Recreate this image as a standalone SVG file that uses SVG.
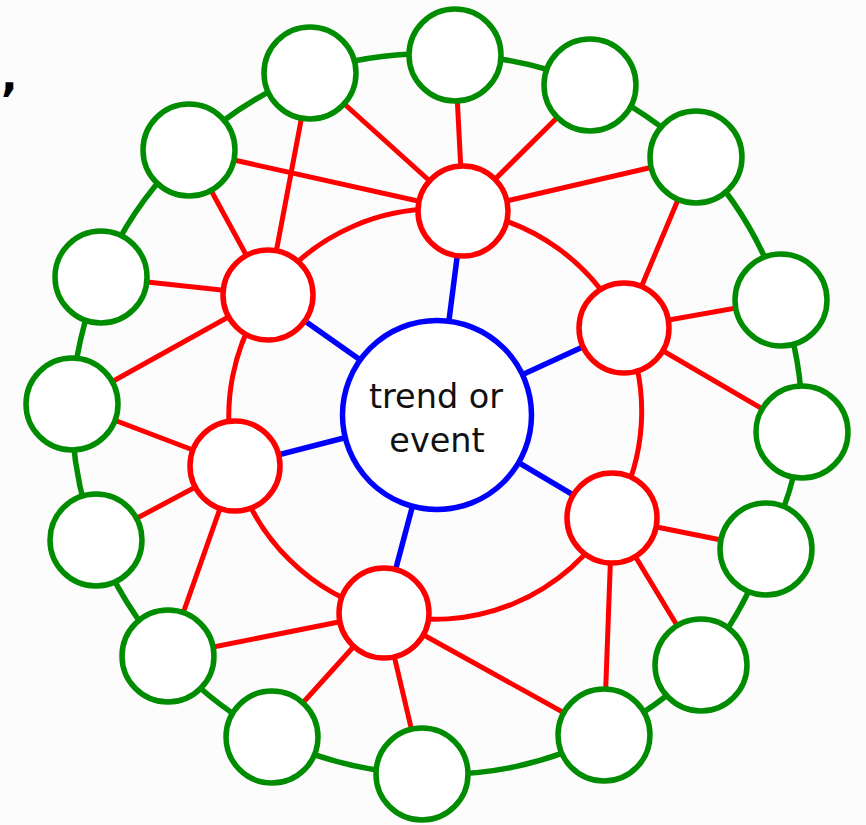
<svg xmlns="http://www.w3.org/2000/svg" width="866" height="825" viewBox="0 0 866 825">
<style>
.g{fill:#fff;stroke:#008c00;stroke-width:5.5}
.r{fill:#fff;stroke:#ff0000;stroke-width:5.5}
.b{fill:#fff;stroke:#0000ff;stroke-width:5.5}
.eg{fill:none;stroke:#008c00;stroke-width:5.5}
.er{fill:none;stroke:#ff0000;stroke-width:5}
.eb{fill:none;stroke:#0000ff;stroke-width:5.5}
.t{font-family:"DejaVu Sans",Verdana,sans-serif;font-size:33.5px;fill:#111;text-anchor:middle}
</style>
<rect width="866" height="825" fill="#fcfcfc"/>
<text x="1" y="91" style="font-family:'DejaVu Sans',sans-serif;font-weight:bold;font-size:44px;fill:#000">,</text>
<g id="connectors">
<!-- green ring -->
<path class="eg" d="M310 73 A362 362 0 0 1 455 55 A362 362 0 0 1 590 85 A362 362 0 0 1 696 157 A362 362 0 0 1 781 300 A362 362 0 0 1 802 432 A362 362 0 0 1 766 549 A362 362 0 0 1 701 665 A362 362 0 0 1 604 735 A362 362 0 0 1 422 774 A362 362 0 0 1 272 737 A362 362 0 0 1 168 656 A362 362 0 0 1 96 540 A362 362 0 0 1 72 404 A362 362 0 0 1 101 277 A362 362 0 0 1 189 150 A362 362 0 0 1 310 73"/>
<!-- red ring arcs -->
<path class="er" d="M268 295 A206 206 0 0 1 463 211 A206 206 0 0 1 624 328 A206 206 0 0 1 612 518 A206 206 0 0 1 384 613 A206 206 0 0 1 235 466 A206 206 0 0 1 268 295"/>
<!-- red spokes -->
<path class="er" d="M463 211 L310 73 M463 211 L455 55 M463 211 L590 85 M463 211 L696 157 M463 211 L189 150
M268 295 L189 150 M268 295 L310 73 M268 295 L101 277 M268 295 L72 404
M624 328 L696 157 M624 328 L781 300 M624 328 L802 432
M235 466 L72 404 M235 466 L96 540 M235 466 L168 656
M612 518 L766 549 M612 518 L701 665 M612 518 L604 735
M384 613 L168 656 M384 613 L272 737 M384 613 L422 774 M384 613 L604 735"/>
<!-- blue spokes -->
<path class="eb" d="M437 414 L463 211 M437 414 L268 295 M437 414 L624 328 M437 414 L235 466 M437 414 L612 518 M437 414 L384 613"/>
</g>
<g id="outer">
<g id="g1"><circle class="g" cx="310" cy="73" r="46"/></g>
<g id="g2"><circle class="g" cx="455" cy="55" r="46"/></g>
<g id="g3"><circle class="g" cx="590" cy="85" r="46"/></g>
<g id="g4"><circle class="g" cx="696" cy="157" r="46"/></g>
<g id="g5"><circle class="g" cx="781" cy="300" r="46"/></g>
<g id="g6"><circle class="g" cx="802" cy="432" r="46"/></g>
<g id="g7"><circle class="g" cx="766" cy="549" r="46"/></g>
<g id="g8"><circle class="g" cx="701" cy="665" r="46"/></g>
<g id="g9"><circle class="g" cx="604" cy="735" r="46"/></g>
<g id="g10"><circle class="g" cx="422" cy="774" r="46"/></g>
<g id="g11"><circle class="g" cx="272" cy="737" r="46"/></g>
<g id="g12"><circle class="g" cx="168" cy="656" r="46"/></g>
<g id="g13"><circle class="g" cx="96" cy="540" r="46"/></g>
<g id="g14"><circle class="g" cx="72" cy="404" r="46"/></g>
<g id="g15"><circle class="g" cx="101" cy="277" r="46"/></g>
<g id="g16"><circle class="g" cx="189" cy="150" r="46"/></g>
</g>
<g id="inner">
<g id="r1"><circle class="r" cx="463" cy="211" r="45"/></g>
<g id="r2"><circle class="r" cx="268" cy="295" r="45"/></g>
<g id="r3"><circle class="r" cx="624" cy="328" r="45"/></g>
<g id="r4"><circle class="r" cx="235" cy="466" r="45"/></g>
<g id="r5"><circle class="r" cx="612" cy="518" r="45"/></g>
<g id="r6"><circle class="r" cx="384" cy="613" r="45"/></g>
</g>
<g id="center">
<circle class="b" cx="437" cy="415" r="94.5"/>
<text class="t" x="436" y="408">trend or</text>
<text class="t" x="437" y="452">event</text>
</g>
</svg>
